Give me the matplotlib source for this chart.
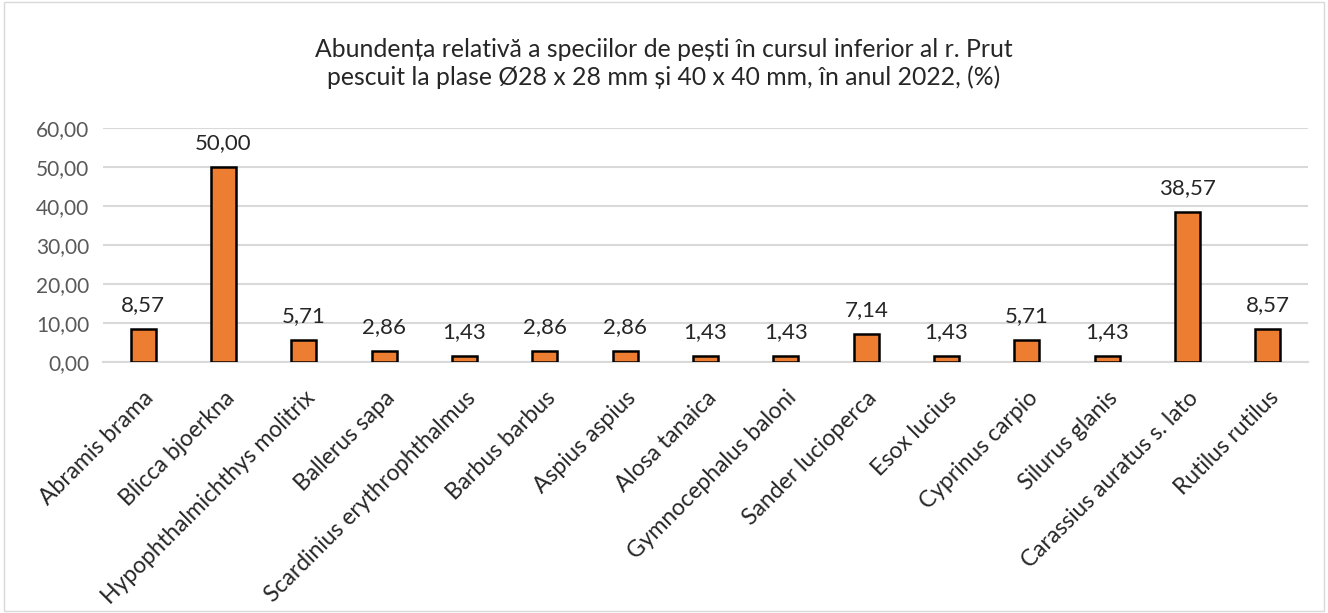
import matplotlib
matplotlib.use("Agg")
import matplotlib.pyplot as plt
from matplotlib.patches import Rectangle

species = ["Abramis brama", "Blicca bjoerkna", "Hypophthalmichthys molitrix",
           "Ballerus sapa", "Scardinius erythrophthalmus", "Barbus barbus",
           "Aspius aspius", "Alosa tanaica", "Gymnocephalus baloni",
           "Sander lucioperca", "Esox lucius", "Cyprinus carpio",
           "Silurus glanis", "Carassius auratus s. lato", "Rutilus rutilus"]
values = [8.57, 50.00, 5.71, 2.86, 1.43, 2.86, 2.86, 1.43, 1.43,
          7.14, 1.43, 5.71, 1.43, 38.57, 8.57]
yticks = [0, 10, 20, 30, 40, 50, 60]

plt.rcParams['font.family'] = ['Lato', 'DejaVu Sans']

fig = plt.figure(figsize=(13.28, 6.13), dpi=100)
ax = fig.add_axes([0.0776, 0.4095, 0.9074, 0.3815])

x = list(range(len(species)))
ax.bar(x, values, width=0.31, color="#ED7D31", edgecolor="black", linewidth=1.8, zorder=3)
for xi, v in zip(x, values):
    ax.annotate(f"{v:.2f}".replace(".", ","), (xi, v), xytext=(0, 10),
                textcoords="offset points", ha="center", va="bottom",
                fontsize=16, color="#262626")

ax.set_xlim(-0.5, len(species) - 0.5)
ax.set_ylim(0, 60)
ax.set_yticks(yticks)
ax.set_yticklabels([f"{t:.2f}".replace(".", ",") for t in yticks], fontsize=15, color="#595959")
ax.yaxis.grid(True, color="#d9d9d9", linewidth=1.5, zorder=0)
ax.set_xticks(x)
ax.set_xticklabels(species, rotation=45, ha="right", rotation_mode="anchor",
                   fontsize=16.5, color="#262626")
ax.tick_params(axis="x", length=0, pad=18)
ax.tick_params(axis="y", length=0, pad=10)
for s in ax.spines.values():
    s.set_visible(False)
ax.spines["bottom"].set_visible(True)
ax.spines["bottom"].set_color("#d9d9d9")
ax.spines["bottom"].set_linewidth(1.5)

fig.text(0.5, 0.896, "Abundența relativă a speciilor de pești în cursul inferior al r. Prut\n"
         "pescuit la plase Ø28 x 28 mm și 40 x 40 mm, în anul 2022, (%)",
         ha="center", va="center", fontsize=17.8, color="#262626", linespacing=1.25)

fig.patches.append(Rectangle((0.003, 0.003), 0.994, 0.994, transform=fig.transFigure,
                             fill=False, edgecolor="#d9d9d9", linewidth=1))

fig.savefig("out.png", dpi=100)
